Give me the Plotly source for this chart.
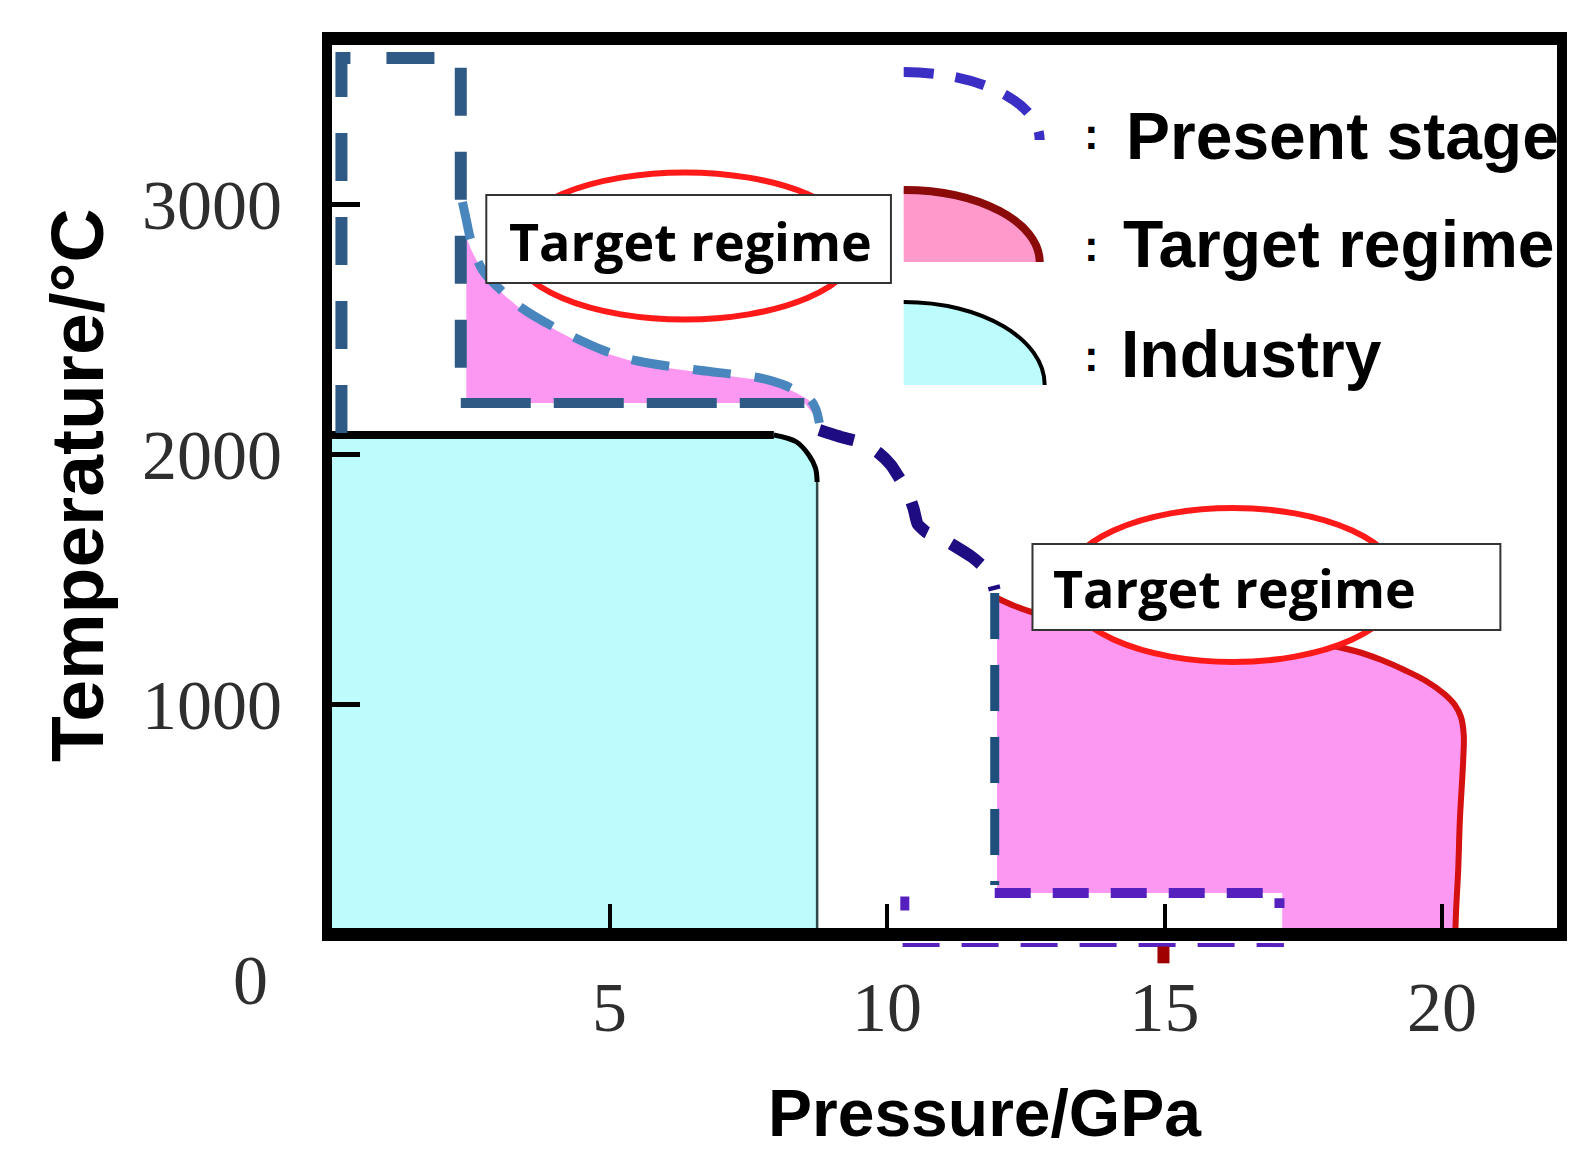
import plotly.graph_objects as go

# ---------------- data (P in GPa, T in °C) ----------------
x_ticks = [5, 10, 15, 20]
x_tick_labels = ["5", "10", "15", "20"]
y_ticks = [1000, 2000, 3000]
y_tick_labels = ["1000", "2000", "3000"]

# Industry region: top plateau, rounded shoulder, vertical edge
industry_P = [-0.2, 7.96, 8.37, 8.59, 8.71, 8.74, 8.74]
industry_T = [2078, 2078, 2050, 1998, 1946, 1890, 0]

# Upper target regime: top boundary
upper_target_P = [2.42, 2.51, 2.62, 2.83, 3.10, 3.42, 3.73, 4.03, 4.44, 4.92,
                  5.51, 6.05, 6.58, 7.12, 7.71, 8.10, 8.37, 8.59, 8.71, 8.76]
upper_target_T = [2870, 2818, 2770, 2698, 2638, 2578, 2538, 2498, 2450, 2406,
                  2366, 2346, 2330, 2314, 2298, 2274, 2246, 2218, 2178, 2138]
upper_target_floor_T = 2206

# Lower target regime: top and right boundary
lower_target_P = [11.98, 12.30, 12.66, 13.19, 13.73, 14.62, 15.52, 16.41, 17.30, 17.93,
                  18.43, 18.91, 19.32, 19.71, 20.04, 20.23, 20.34, 20.39, 20.38, 20.32,
                  20.29, 20.25, 20.23]
lower_target_T = [1426, 1394, 1366, 1338, 1314, 1290, 1274, 1262, 1250, 1238,
                  1214, 1178, 1138, 1094, 1042, 998, 950, 878, 778, 538,
                  338, 166, 0]
lower_target_floor_T = 246
lower_target_step_P = 17.12

# Present stage: dashed outline pieces
present_box_P = [0.17, 0.17, 2.32, 2.32]
present_box_T = [2086, 3586, 3586, 2206]
present_floor_P = [2.32, 8.51]
present_floor_T = [2206, 2206]
present_hi_P = [2.35, 2.42, 2.51, 2.71, 3.10, 3.42, 4.03, 4.92, 5.51, 6.58,
                7.71, 8.10, 8.37, 8.59, 8.71, 8.78]
present_hi_T = [3010, 2938, 2850, 2738, 2646, 2586, 2506, 2414, 2374, 2338,
                2306, 2282, 2254, 2226, 2186, 2126]
present_mid_P = [8.78, 9.17, 9.57, 9.85, 10.07, 10.21, 10.37, 10.48, 10.55, 10.70,
                 10.90, 11.05, 11.53, 11.76, 11.89, 11.94]
present_mid_T = [2098, 2070, 2046, 2006, 1958, 1910, 1850, 1782, 1722, 1690,
                 1670, 1656, 1590, 1546, 1498, 1458]
present_drop_P = [11.94, 11.94]
present_drop_T = [1446, 278]
present_low_P = [11.94, 17.07, 17.07]
present_low_T = [246, 246, 186]
present_stub_P = [10.32, 10.32]
present_stub_T = [232, 176]
present_axis_P = [10.28, 17.15]

# ---------------- styling ----------------
CYAN = "#BCFCFC"
PINK = "#FC98F2"
LEG_PINK = "#FF99CC"
RED_ELL = "#FF1A1A"
RED_CURVE = "#D41010"
DARK_RED = "#8B0A0A"
BOX_BLUE = "#2E5A85"
LIGHT_BLUE = "#4A86BE"
NAVY = "#1E0C82"
DROP_BLUE = "#1F4F7C"
PURPLE = "#5620BE"
LEG_BLUE = "#3B2EC4"

fig = go.Figure()

def line(x, y, color, width, dash="solid", shape="linear", smoothing=1.0):
    fig.add_trace(go.Scatter(x=x, y=y, mode="lines", hoverinfo="skip",
                             line=dict(color=color, width=width, dash=dash, shape=shape,
                                       smoothing=smoothing),
                             showlegend=False))

def area(x, y, color):
    fig.add_trace(go.Scatter(x=x, y=y, mode="lines", fill="toself", fillcolor=color,
                             line=dict(width=0), hoverinfo="skip", showlegend=False))

# fills
area([industry_P[0]] + industry_P + [industry_P[0]],
     [0] + industry_T + [0], CYAN)
area([upper_target_P[0]] + upper_target_P + [present_floor_P[1], upper_target_P[0]],
     [upper_target_floor_T] + upper_target_T + [upper_target_floor_T, upper_target_floor_T],
     PINK)
area(lower_target_P + [lower_target_step_P, lower_target_step_P, lower_target_P[0]],
     lower_target_T + [0, lower_target_floor_T, lower_target_floor_T],
     PINK)

# industry outline
line(industry_P[:2], industry_T[:2], "black", 8)
line(industry_P[1:6], industry_T[1:6], "black", 5, shape="spline")
line(industry_P[5:], industry_T[5:], "#2F4A4A", 2.5)

# lower target red outline
line(lower_target_P, lower_target_T, RED_CURVE, 6, shape="spline")

# present stage dashed pieces
line(present_box_P, present_box_T, BOX_BLUE, 12, dash="48px,36px")
line(present_floor_P, present_floor_T, BOX_BLUE, 10, dash="70px,23px")
line(present_hi_P, present_hi_T, LIGHT_BLUE, 9, dash="38px,24px", shape="spline")
line(present_mid_P, present_mid_T, NAVY, 12, dash="36px,26px", shape="spline", smoothing=0.5)
line(present_drop_P, present_drop_T, DROP_BLUE, 9, dash="46px,26px")
line(present_low_P, present_low_T, PURPLE, 10, dash="36px,22px")
line(present_stub_P, present_stub_T, PURPLE, 9)

shapes = []
# purple dashes and red mark just below the bottom frame
shapes.append(dict(type="line", xref="x", yref="paper", x0=present_axis_P[0], x1=present_axis_P[1],
                   y0=-0.0193, y1=-0.0193, line=dict(color=PURPLE, width=4, dash="37px,22px")))
shapes.append(dict(type="line", xref="x", yref="paper", x0=14.98, x1=14.98,
                   y0=-0.021, y1=-0.040, line=dict(color="#A00000", width=12)))

# red ellipses (white inside) and the white label boxes on top of them
for x0, x1, y0, y1 in [(3.23, 9.48, 2540, 3128), (13.19, 19.27, 1170, 1786)]:
    shapes.append(dict(type="circle", xref="x", yref="y", x0=x0, x1=x1, y0=y0, y1=y1,
                       fillcolor="white", line=dict(color=RED_ELL, width=6), layer="above"))
for x0, x1, y0, y1 in [(2.78, 10.07, 2686, 3038), (12.62, 21.05, 1298, 1642)]:
    shapes.append(dict(type="rect", xref="x", yref="y", x0=x0, x1=x1, y0=y0, y1=y1,
                       fillcolor="white", line=dict(color="#333333", width=2), layer="above"))

# legend glyphs (quarter ellipses)
K = 0.5523
def arc(pc, tc, rx, ry):
    return (f"M{pc},{tc + ry} C{pc + K * rx},{tc + ry} {pc + rx},{tc + K * ry} "
            f"{pc + rx},{tc}")

def sector(pc, tc, rx, ry):
    return f"M{pc},{tc} L" + arc(pc, tc, rx, ry)[1:] + " Z"

leg_pc = 10.30
shapes.append(dict(type="path", xref="x", yref="y", path=arc(leg_pc, 3258, 2.45, 272),
                   line=dict(color=LEG_BLUE, width=10, dash="30px,22px"), layer="above"))
shapes.append(dict(type="path", xref="x", yref="y", path=sector(leg_pc, 2770, 2.45, 288),
                   fillcolor=LEG_PINK, line=dict(width=0), layer="above"))
shapes.append(dict(type="path", xref="x", yref="y", path=arc(leg_pc, 2770, 2.45, 288),
                   line=dict(color=DARK_RED, width=8), layer="above"))
shapes.append(dict(type="path", xref="x", yref="y", path=sector(leg_pc, 2278, 2.54, 332),
                   fillcolor=CYAN, line=dict(width=0), layer="above"))
shapes.append(dict(type="path", xref="x", yref="y", path=arc(leg_pc, 2278, 2.54, 332),
                   line=dict(color="black", width=4), layer="above"))

annotations = []
box_font = dict(family="Open Sans, Noto Sans, sans-serif", size=52, color="black")
for xs, ys in [(3.155, 2858), (12.96, 1468)]:
    annotations.append(dict(x=xs, y=ys, xref="x", yref="y", text="<b>Target regime</b>",
                            showarrow=False, xanchor="left", yanchor="middle", font=box_font))

leg_font = dict(family="Liberation Sans, Arial, sans-serif", size=66, color="black")
for label, xs, ys, yc in [("Present stage", 14.27, 3274, 3286),
                          ("Target regime", 14.21, 2842, 2838),
                          ("Industry", 14.17, 2402, 2398)]:
    annotations.append(dict(x=13.68, y=yc, xref="x", yref="y", text="<b>:</b>",
                            showarrow=False, xanchor="center", yanchor="middle",
                            font=dict(family="Liberation Sans", size=44, color="black")))
    annotations.append(dict(x=xs, y=ys, xref="x", yref="y", text=f"<b>{label}</b>",
                            showarrow=False, xanchor="left", yanchor="middle", font=leg_font))

title_font = dict(family="Liberation Sans, Arial, sans-serif", size=75, color="black")
annotations.append(dict(x=-0.2081, y=0.5017, xref="paper", yref="paper",
                        text="<b>Temperature/°C</b>", textangle=-90, showarrow=False,
                        xanchor="center", yanchor="middle", font=title_font))
annotations.append(dict(x=0.5328, y=-0.2095, xref="paper", yref="paper",
                        text="<b>Pressure/GPa</b>", showarrow=False,
                        xanchor="center", yanchor="middle",
                        font=dict(family="Liberation Sans, Arial, sans-serif", size=66,
                                  color="black")))
tick_font = dict(family="Liberation Serif, Times New Roman, serif", size=70, color="#2E2E2E")
annotations.append(dict(x=-0.0664, y=-0.0589, xref="paper", yref="paper", text="0",
                        showarrow=False, xanchor="center", yanchor="middle", font=tick_font))

fig.update_layout(
    width=1576, height=1152, autosize=False,
    margin=dict(l=332, r=9, t=45, b=224),
    paper_bgcolor="white", plot_bgcolor="white",
    shapes=shapes, annotations=annotations,
    xaxis=dict(range=[0, 22.07], showgrid=False, zeroline=False, showline=True,
               mirror=True, linecolor="black", linewidth=13,
               tickvals=x_ticks, ticktext=x_tick_labels, ticks="inside",
               ticklen=24, tickwidth=4, tickcolor="black", tickfont=tick_font,
               ticklabelstandoff=6),
    yaxis=dict(range=[106, 3638], showgrid=False, zeroline=False, showline=True,
               mirror=True, linecolor="black", linewidth=10,
               tickvals=y_ticks, ticktext=y_tick_labels, ticks="inside",
               ticklen=28, tickwidth=5, tickcolor="black", tickfont=tick_font,
               ticklabelstandoff=26),
    showlegend=False,
)

fig.write_html("out.html",
               config={"responsive": False, "displayModeBar": False},
               post_script="document.body.style.margin='0';"
                           "document.documentElement.style.overflow='hidden';")
